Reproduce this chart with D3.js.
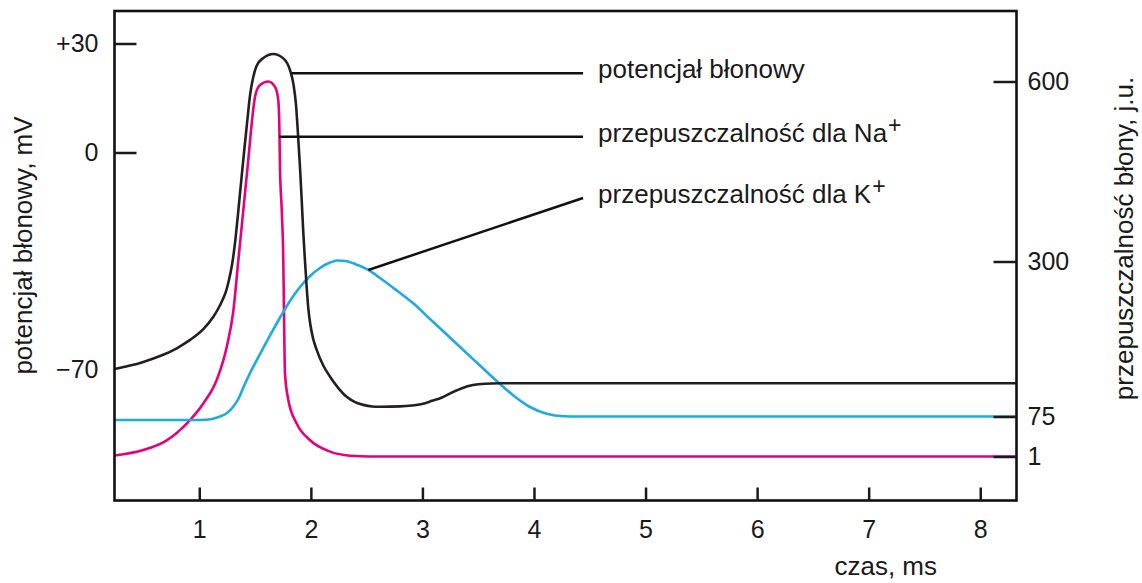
<!DOCTYPE html>
<html lang="pl">
<head>
  <meta charset="UTF-8" />
  <title>Potencjał czynnościowy</title>
  <script src="https://d3js.org/d3.v7.min.js"></script>
  <style>
    body { margin: 0; background: #fff; }
    svg { display: block; font-family: "Liberation Sans", Arial, Helvetica, sans-serif; }
    .axis text { font-size: 25px; fill: #1a1a1a; }
    .axis line { stroke: #1a1a1a; stroke-width: 2.5; }
    .title { font-size: 26px; fill: #1a1a1a; }
    .curve { fill: none; stroke-width: 2.6; }
    .pointer { stroke: #111; stroke-width: 2.5; fill: none; }
  </style>
</head>
<body>
  <div id="chart"></div>
  <script>
    // czas w ms
    const timeTicks = [1, 2, 3, 4, 5, 6, 7, 8];
    const potentialTicks = [30, 0, -70];
    const potentialLabels = ['+30', '0', '\u221270'];
    const permeabilityTicks = [600, 300, 75, 1];

    // [czas ms, potencjał mV]
    const membranePotential = [
      [0.24, -70], [0.379, -68.9], [0.498, -67.7], [0.648, -65.8], [0.798, -63.3],
      [0.917, -60.6], [1.036, -57.1], [1.126, -53.1], [1.168, -50.6], [1.204, -48.0],
      [1.24, -44.8], [1.266, -41.2], [1.293, -36.4], [1.32, -29.3], [1.347, -19.9],
      [1.374, -9.9], [1.401, 0], [1.428, 8.1], [1.455, 15.8], [1.482, 20.5],
      [1.513, 23.8], [1.574, 26.0], [1.664, 27.1], [1.753, 25.9], [1.813, 22.7],
      [1.845, 18.6], [1.867, 13.1], [1.888, 3.4], [1.903, -5.0], [1.918, -15.4],
      [1.932, -25.7], [1.948, -35.4], [1.963, -43.8], [1.977, -50.3], [1.992, -54.8],
      [2.019, -60.0], [2.053, -63.9], [2.109, -68.7], [2.172, -72.5], [2.243, -76.0],
      [2.321, -79.0], [2.396, -80.7], [2.47, -81.6], [2.548, -82.1], [2.62, -82.2],
      [2.799, -82.1], [2.907, -81.8], [2.996, -81.3], [3.086, -80.3], [3.176, -79.2],
      [3.265, -77.6], [3.355, -76.2], [3.453, -75.2], [3.561, -74.75], [3.695, -74.6],
      [8.325, -74.6]
    ];

    // [czas ms, przepuszczalność j.u.]
    const sodiumPermeability = [
      [0.24, 3], [0.498, 13], [0.708, 31], [0.887, 62], [1.036, 94],
      [1.156, 128], [1.246, 176], [1.305, 228], [1.35, 302], [1.395, 386],
      [1.439, 469], [1.47, 530], [1.50, 575], [1.544, 594], [1.619, 600],
      [1.679, 591], [1.708, 569], [1.717, 530], [1.724, 452], [1.739, 386],
      [1.753, 302], [1.759, 230], [1.768, 138], [1.798, 99], [1.873, 62],
      [1.993, 31], [2.172, 10], [2.351, 2.5], [2.53, 1], [8.325, 1]
    ];

    const potassiumPermeability = [
      [0.24, 68.5], [1.007, 68.5], [1.114, 70.4], [1.186, 75], [1.249, 80.1],
      [1.302, 88.8], [1.35, 100.4], [1.401, 119.3], [1.455, 138.1], [1.544, 165.7],
      [1.634, 192.6], [1.724, 218.7], [1.813, 242.7], [1.903, 263.0], [1.993, 279.0],
      [2.082, 290.6], [2.172, 298.5], [2.235, 301.7], [2.307, 300.8], [2.396, 296.4],
      [2.515, 287.7], [2.62, 276.0], [2.77, 257.9], [2.918, 239.3], [3.068, 216.5],
      [3.218, 194.0], [3.366, 171.5], [3.516, 149.0], [3.666, 126.5], [3.815, 105.5],
      [3.964, 88.8], [4.114, 78.9], [4.263, 75.3], [4.412, 75], [8.325, 75]
    ];

    const annotations = [
      { text: 'potencjał błonowy', sup: '', from: [1.828, 21.8], axis: 'left', to: [4.44, 21.8] },
      { text: 'przepuszczalność dla Na', sup: '+', from: [1.715, 508], axis: 'right', to: [4.44, 508] },
      { text: 'przepuszczalność dla K', sup: '+', from: [2.515, 287.7], axis: 'right', to: [4.44, 405.8] }
    ];

    const W = 1142, H = 583;
    const box = { left: 114.5, right: 1016.5, top: 11, bottom: 500.5 };

    const svg = d3.select('#chart').append('svg')
      .attr('width', W)
      .attr('height', H);

    const x = d3.scaleLinear().domain([0.24, 8.325]).range([box.left, box.right]);
    // osie nie są liniowe na oryginale - skala odcinkami
    const yLeft = d3.scaleLinear().domain([-70, 0, 30]).range([369, 152.5, 43.5]);
    const yRight = d3.scaleLinear().domain([1, 75, 300, 600]).range([456.5, 416.5, 261.5, 81.5]);

    const line = (yScale) => d3.line()
      .x(d => x(d[0]))
      .y(d => yScale(d[1]))
      .curve(d3.curveMonotoneX);

    svg.append('path')
      .attr('class', 'curve')
      .attr('stroke', '#e6007e')
      .attr('d', line(yRight)(sodiumPermeability));

    svg.append('path')
      .attr('class', 'curve')
      .attr('stroke', '#1eaae2')
      .attr('d', line(yRight)(potassiumPermeability));

    svg.append('path')
      .attr('class', 'curve')
      .attr('stroke', '#231f20')
      .attr('d', line(yLeft)(membranePotential));

    // ramka
    svg.append('rect')
      .attr('x', box.left).attr('y', box.top)
      .attr('width', box.right - box.left)
      .attr('height', box.bottom - box.top)
      .attr('fill', 'none')
      .attr('stroke', '#111')
      .attr('stroke-width', 2.6);

    const styleAxis = g => {
      g.select('.domain').remove();
      g.attr('font-family', null).attr('font-size', null);
    };

    const leftAxis = svg.append('g')
      .attr('class', 'axis')
      .attr('transform', `translate(${box.left},0)`)
      .call(d3.axisLeft(yLeft).tickValues(potentialTicks).tickSize(-22).tickPadding(16)
        .tickFormat((d, i) => potentialLabels[i]))
      .call(styleAxis);
    leftAxis.selectAll('.tick').filter(d => d === -70).select('line').remove();

    svg.append('g')
      .attr('class', 'axis')
      .attr('transform', `translate(${box.right},0)`)
      .call(d3.axisRight(yRight).tickValues(permeabilityTicks).tickSize(-23).tickPadding(11))
      .call(styleAxis);

    svg.append('g')
      .attr('class', 'axis')
      .attr('transform', `translate(0,${box.bottom})`)
      .call(d3.axisBottom(x).tickValues(timeTicks).tickSize(-13).tickPadding(20))
      .call(styleAxis);

    // opisy krzywych
    annotations.forEach(a => {
      const ys = a.axis === 'left' ? yLeft : yRight;
      const x1 = x(a.from[0]), y1 = ys(a.from[1]);
      const x2 = x(a.to[0]), y2 = ys(a.to[1]);
      svg.append('line')
        .attr('class', 'pointer')
        .attr('x1', x1).attr('y1', y1)
        .attr('x2', x2).attr('y2', y2);
      const t = svg.append('text')
        .attr('class', 'title')
        .attr('x', x2 + 15)
        .attr('y', y2 + 5)
        .text(a.text);
      if (a.sup) {
        t.append('tspan')
          .attr('font-size', '23px')
          .attr('dx', '1')
          .attr('dy', '-9')
          .text(a.sup);
      }
    });

    // tytuły osi
    svg.append('text')
      .attr('class', 'title')
      .attr('transform', `translate(32,${(113 + 378) / 2}) rotate(-90)`)
      .attr('text-anchor', 'middle')
      .text('potencjał błonowy, mV');

    svg.append('text')
      .attr('class', 'title')
      .attr('transform', `translate(1133,${(72 + 405) / 2}) rotate(-90)`)
      .attr('text-anchor', 'middle')
      .text('przepuszczalność błony, j.u.');

    svg.append('text')
      .attr('class', 'title')
      .attr('x', 937)
      .attr('y', 575)
      .attr('text-anchor', 'end')
      .text('czas, ms');
  </script>
</body>
</html>
